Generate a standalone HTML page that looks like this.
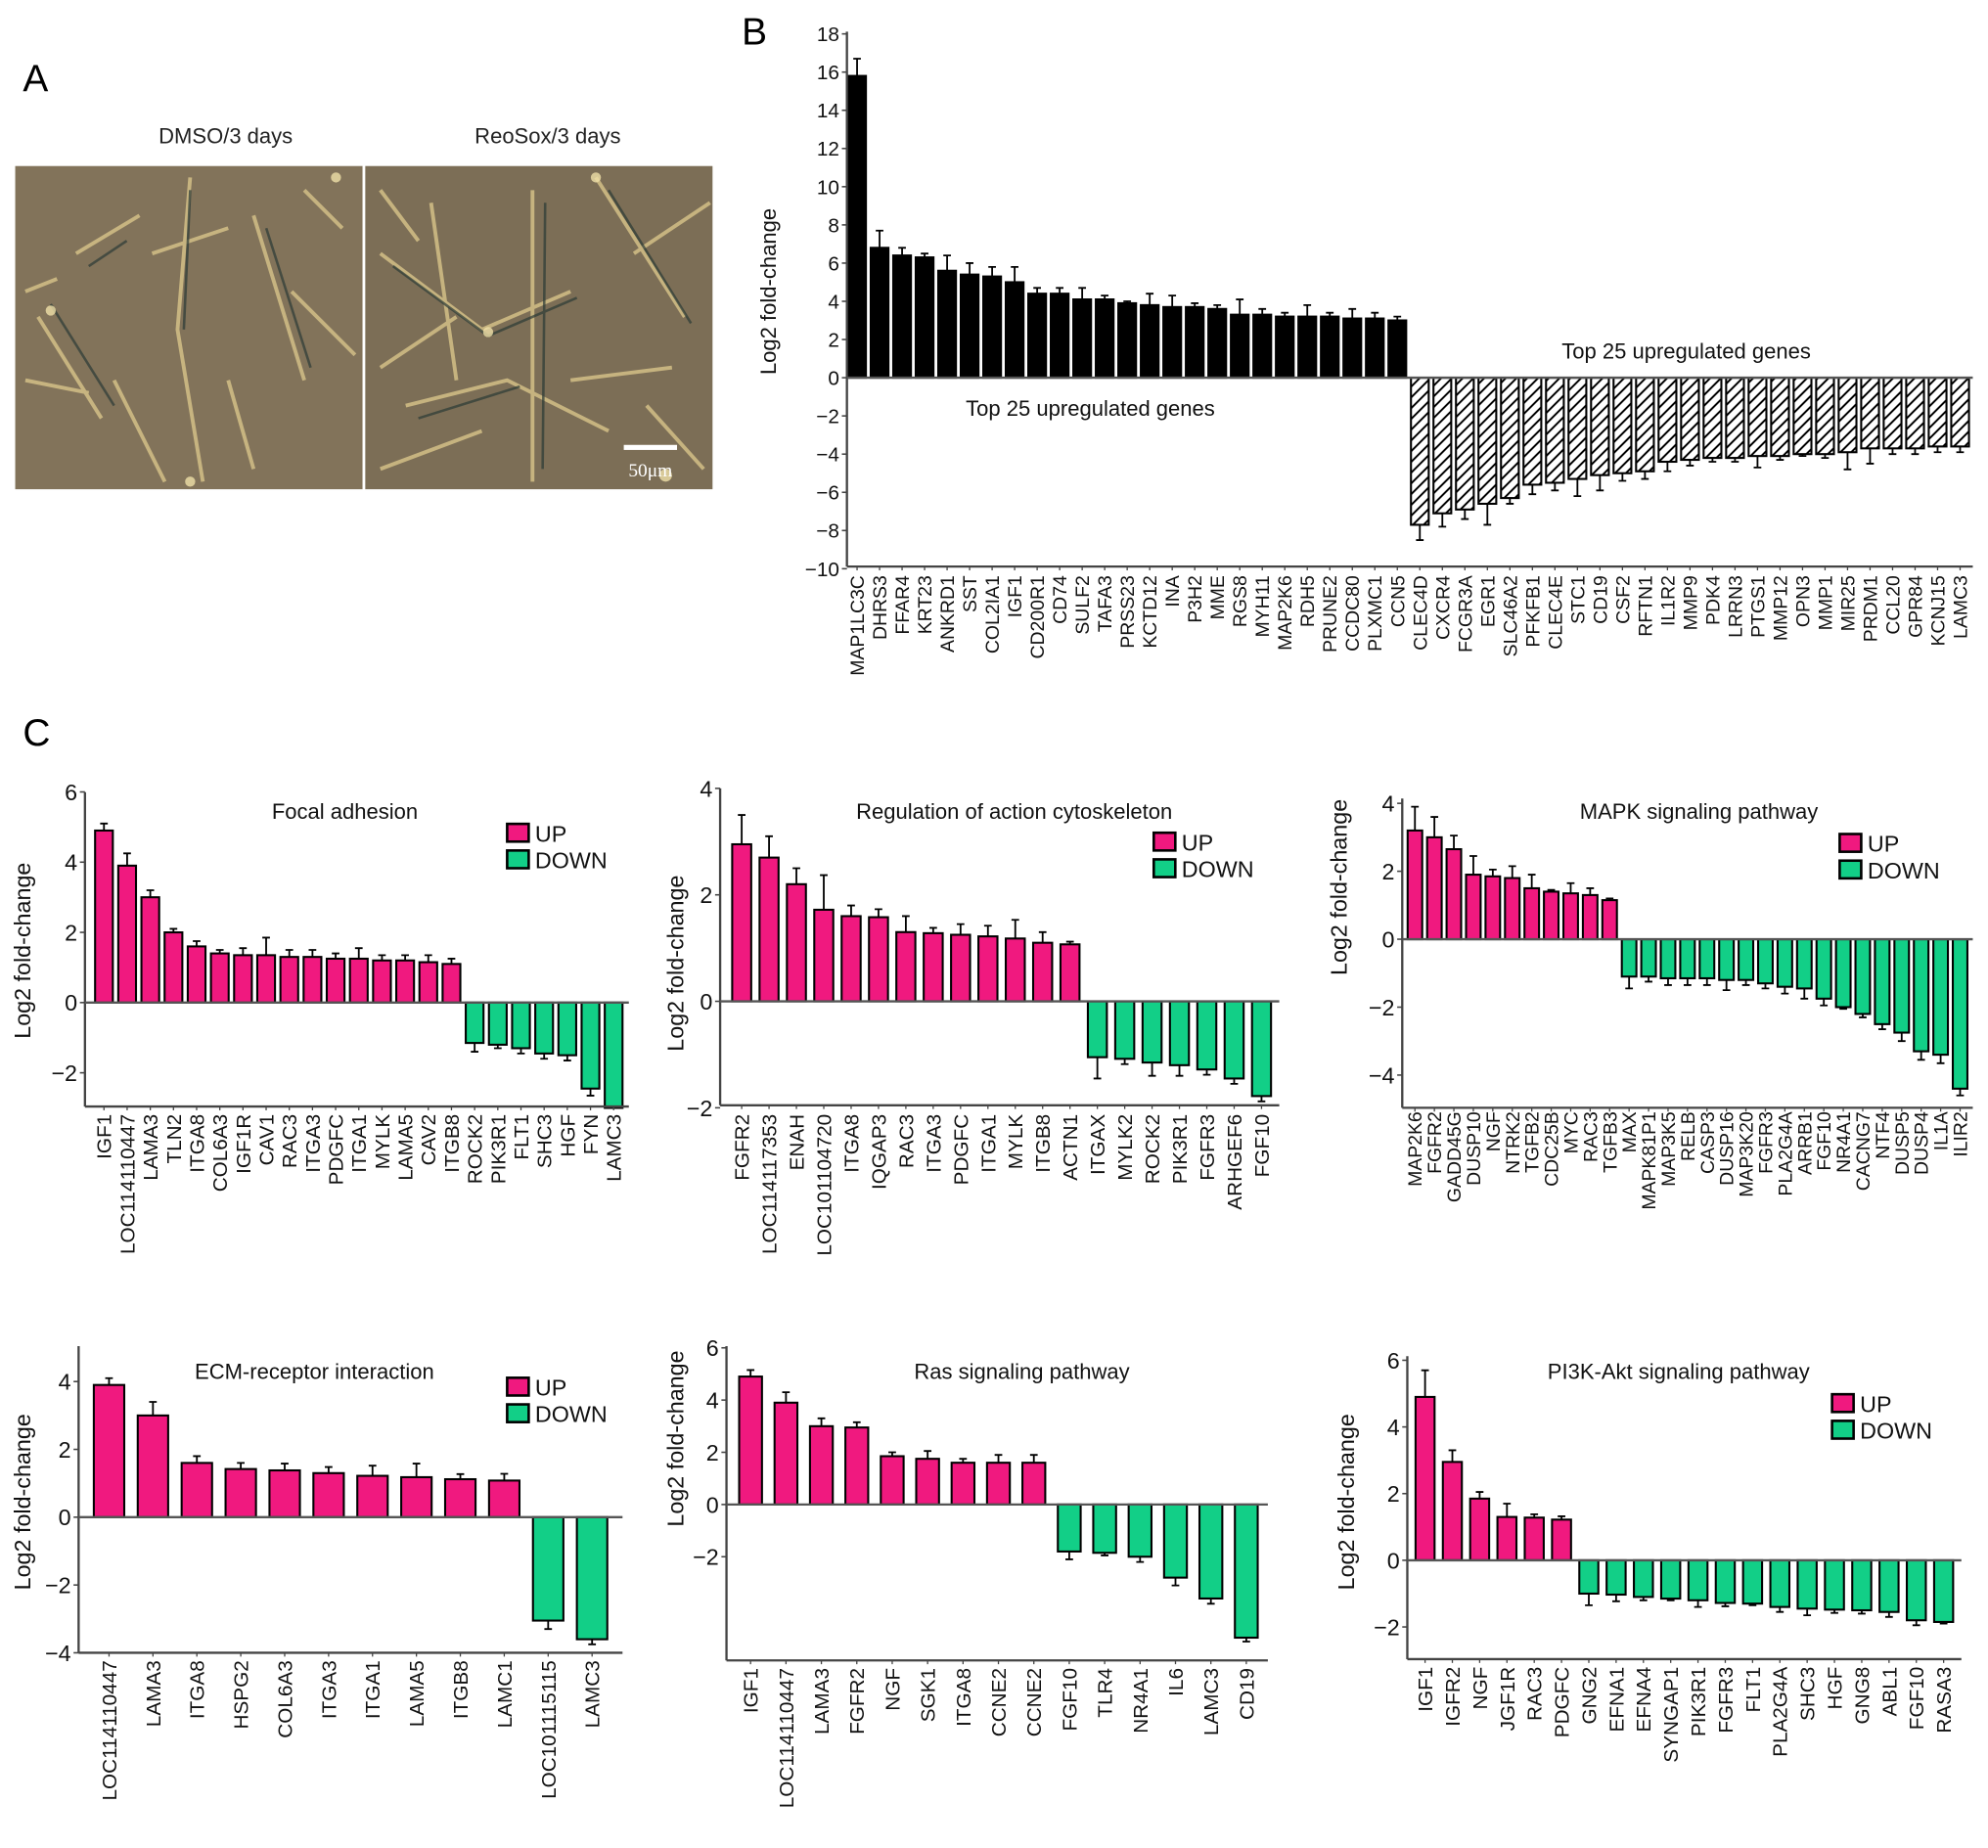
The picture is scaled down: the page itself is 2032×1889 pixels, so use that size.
<!DOCTYPE html>
<html><head><meta charset="utf-8"><style>
html,body{margin:0;padding:0;background:#fff;}
svg{display:block;font-family:"Liberation Sans",Arial,sans-serif;}
</style></head><body>
<svg id="fig" width="2032" height="1889" viewBox="0 0 1568 1458" preserveAspectRatio="none">
<defs>
<pattern id="hatch" patternUnits="userSpaceOnUse" width="6" height="6" patternTransform="rotate(45)">
<rect width="6" height="6" fill="#fff"/><line x1="0" y1="0" x2="0" y2="6" stroke="#000" stroke-width="3"/>
</pattern>
</defs>
<g>
<text x="18" y="72" font-size="30">A</text>
<text x="178" y="113" font-size="17" text-anchor="middle" fill="#222">DMSO/3 days</text>
<text x="432" y="113" font-size="17" text-anchor="middle" fill="#222">ReoSox/3 days</text>
<rect x="12" y="131" width="274" height="255" fill="#82735a"/>
<rect x="288" y="131" width="274" height="255" fill="#7c6e56"/>
<g stroke="#d8c48a" stroke-width="3" fill="none" opacity="0.8">
<path d="M30 250 L80 330 M60 200 L110 170 M150 140 L140 260 L160 380 M120 200 L180 180 M200 170 L240 300 M230 230 L280 280 M20 300 L70 310 M90 300 L130 380 M20 230 L45 220 M180 300 L200 370 M240 150 L270 180"/>
<path d="M300 200 L380 260 L450 230 M320 320 L400 300 L480 340 M340 160 L360 300 M420 150 L420 380 M470 140 L540 250 M500 200 L560 160 M300 370 L380 340 M450 300 L530 290 M360 250 L300 290 M510 320 L555 370 M300 150 L330 190"/>
</g>
<g stroke="#2b3a36" stroke-width="2" fill="none" opacity="0.7">
<path d="M40 240 L90 320 M150 150 L145 260 M210 180 L245 290 M310 210 L385 265 L455 235 M330 330 L410 305 M430 160 L428 370 M480 150 L545 255 M70 210 L100 190"/>
</g>
<g fill="#efe0a8" opacity="0.8">
<circle cx="40" cy="245" r="4"/><circle cx="150" cy="380" r="4"/><circle cx="265" cy="140" r="4"/><circle cx="385" cy="262" r="4"/><circle cx="470" cy="140" r="4"/><circle cx="525" cy="375" r="5"/>
</g>
<rect x="492" y="351" width="42" height="4" fill="#fff"/>
<text x="513" y="376" font-size="15" fill="#fff" text-anchor="middle" font-family="Liberation Serif">50μm</text>
<rect x="286" y="131" width="2" height="255" fill="#fff"/>
</g>
<text x="585" y="35" font-size="30">B</text>
<text x="18" y="588" font-size="30">C</text>
<g id="charts"></g>
</svg>
<script>
// ---- Panel B data ----
const bGenes=["MAP1LC3C","DHRS3","FFAR4","KRT23","ANKRD1","SST","COL2IA1","IGF1","CD200R1","CD74","SULF2","TAFA3","PRSS23","KCTD12","INA","P3H2","MME","RGS8","MYH11","MAP2K6","RDH5","PRUNE2","CCDC80","PLXMC1","CCN5","CLEC4D","CXCR4","FCGR3A","EGR1","SLC46A2","PFKFB1","CLEC4E","STC1","CD19","CSF2","RFTN1","IL1R2","MMP9","PDK4","LRRN3","PTGS1","MMP12","OPN3","MMP1","MIR25","PRDM1","CCL20","GPR84","KCNJ15","LAMC3"];
const bValues=[15.8,6.8,6.4,6.3,5.6,5.4,5.3,5.0,4.4,4.4,4.1,4.1,3.9,3.8,3.7,3.7,3.6,3.3,3.3,3.2,3.2,3.2,3.1,3.1,3.0,-7.7,-7.1,-6.9,-6.6,-6.3,-5.6,-5.5,-5.3,-5.1,-5.0,-4.9,-4.4,-4.3,-4.2,-4.2,-4.1,-4.1,-4.0,-4.0,-3.9,-3.7,-3.7,-3.7,-3.6,-3.6];
const bErrors=[0.9,0.9,0.4,0.2,0.8,0.6,0.5,0.8,0.3,0.3,0.6,0.2,0.1,0.6,0.6,0.2,0.2,0.8,0.3,0.2,0.6,0.2,0.5,0.3,0.2,0.8,0.7,0.5,1.1,0.3,0.5,0.4,0.9,0.8,0.4,0.4,0.5,0.3,0.2,0.2,0.6,0.2,0.1,0.2,0.9,0.8,0.3,0.3,0.3,0.3];
const bTicks=[18,16,14,12,10,8,6,4,2,0,-2,-4,-6,-8,-10];
// ---- C1 Focal adhesion ----
const c1Genes=["IGF1","LOC114110447","LAMA3","TLN2","ITGA8","COL6A3","IGF1R","CAV1","RAC3","ITGA3","PDGFC","ITGA1","MYLK","LAMA5","CAV2","ITGB8","ROCK2","PIK3R1","FLT1","SHC3","HGF","FYN","LAMC3"];
const c1Values=[4.9,3.9,3.0,2.0,1.6,1.4,1.35,1.35,1.3,1.3,1.25,1.25,1.2,1.2,1.15,1.1,-1.15,-1.2,-1.3,-1.45,-1.5,-2.45,-3.0];
const c1Errors=[0.2,0.35,0.2,0.1,0.15,0.1,0.2,0.5,0.2,0.2,0.15,0.3,0.15,0.15,0.2,0.15,0.25,0.1,0.15,0.15,0.15,0.2,0];
const c1Ticks=[6,4,2,0,-2];
// ---- C2 Regulation of actin cytoskeleton ----
const c2Genes=["FGFR2","LOC114117353","ENAH","LOC101104720","ITGA8","IQGAP3","RAC3","ITGA3","PDGFC","ITGA1","MYLK","ITGB8","ACTN1","ITGAX","MYLK2","ROCK2","PIK3R1","FGFR3","ARHGEF6","FGF10"];
const c2Values=[2.95,2.7,2.2,1.72,1.6,1.58,1.3,1.28,1.25,1.22,1.18,1.1,1.07,-1.05,-1.08,-1.15,-1.2,-1.28,-1.45,-1.78];
const c2Errors=[0.55,0.4,0.3,0.65,0.2,0.15,0.3,0.1,0.2,0.2,0.35,0.2,0.05,0.4,0.1,0.25,0.2,0.1,0.1,0.1];
const c2Ticks=[4,2,0,-2];
// ---- C3 MAPK ----
const c3Genes=["MAP2K6","FGFR2","GADD45G","DUSP10","NGF","NTRK2","TGFB2","CDC25B","MYC","RAC3","TGFB3","MAX","MAPK81P1","MAP3K5","RELB","CASP3","DUSP16","MAP3K20","FGFR3","PLA2G4A","ARRB1","FGF10","NR4A1","CACNG7","NTF4","DUSP5","DUSP4","IL1A","ILIR2"];
const c3Values=[3.2,3.0,2.65,1.9,1.85,1.8,1.5,1.4,1.35,1.3,1.15,-1.1,-1.1,-1.15,-1.15,-1.15,-1.2,-1.2,-1.3,-1.4,-1.45,-1.75,-2.0,-2.2,-2.5,-2.75,-3.3,-3.4,-4.4];
const c3Errors=[0.7,0.6,0.4,0.55,0.2,0.35,0.4,0.05,0.3,0.2,0.05,0.35,0.15,0.2,0.2,0.2,0.3,0.15,0.15,0.2,0.3,0.2,0.05,0.1,0.15,0.25,0.25,0.25,0.2];
const c3Ticks=[4,2,0,-2,-4];
// ---- C4 ECM-receptor ----
const c4Genes=["LOC114110447","LAMA3","ITGA8","HSPG2","COL6A3","ITGA3","ITGA1","LAMA5","ITGB8","LAMC1","LOC101115115","LAMC3"];
const c4Values=[3.9,3.0,1.6,1.42,1.38,1.3,1.22,1.18,1.12,1.08,-3.05,-3.6];
const c4Errors=[0.2,0.4,0.2,0.18,0.2,0.18,0.3,0.4,0.15,0.2,0.25,0.15];
const c4Ticks=[4,2,0,-2,-4];
// ---- C5 Ras ----
const c5Genes=["IGF1","LOC114110447","LAMA3","FGFR2","NGF","SGK1","ITGA8","CCNE2","CCNE2","FGF10","TLR4","NR4A1","IL6","LAMC3","CD19"];
const c5Values=[4.9,3.9,3.0,2.95,1.85,1.75,1.6,1.6,1.6,-1.8,-1.85,-2.0,-2.8,-3.6,-5.1];
const c5Errors=[0.25,0.4,0.3,0.2,0.15,0.3,0.15,0.3,0.3,0.3,0.1,0.2,0.3,0.2,0.15];
const c5Ticks=[6,4,2,0,-2];
// ---- C6 PI3K-Akt ----
const c6Genes=["IGF1","IGFR2","NGF","JGF1R","RAC3","PDGFC","GNG2","EFNA1","EFNA4","SYNGAP1","PIK3R1","FGFR3","FLT1","PLA2G4A","SHC3","HGF","GNG8","ABL1","FGF10","RASA3"];
const c6Values=[4.9,2.95,1.85,1.3,1.28,1.22,-1.0,-1.03,-1.1,-1.15,-1.2,-1.28,-1.3,-1.4,-1.45,-1.48,-1.5,-1.55,-1.8,-1.85];
const c6Errors=[0.8,0.35,0.2,0.4,0.1,0.1,0.35,0.2,0.1,0.05,0.2,0.1,0.05,0.15,0.2,0.1,0.1,0.15,0.15,0.05];
const c6Ticks=[6,4,2,0,-2];

const NS="http://www.w3.org/2000/svg";
const root=document.getElementById("charts");
function mk(tag,attrs,parent){const e=document.createElementNS(NS,tag);for(const k in attrs)e.setAttribute(k,attrs[k]);(parent||root).appendChild(e);return e;}

function chart(o){
  const g=mk("g",{});
  
  
  const y=v=>o.y0-v*o.unit;
  const n=o.genes.length;
  const step=(o.xLast-o.xFirst)/(n-1);
  const xc=i=>o.xFirst+i*step;
  o.values.forEach((v,i)=>{
    const x=xc(i)-o.bw/2;
    const top=Math.min(y(v),o.y0), h=Math.abs(y(v)-o.y0);
    let fill=v>=0?o.upFill:o.downFill;
    const r=mk("rect",{x:x,y:top,width:o.bw,height:h,fill:fill,stroke:"#000","stroke-width":o.sw||1.6},g);
    
    
    const e=o.errors[i];
    if(e>0){
      const ye=v>=0?y(v+e):y(v-e);
      const ln=mk("path",{d:`M${xc(i)} ${y(v)}V${ye}M${xc(i)-3} ${ye}H${xc(i)+3}`,stroke:"#000","stroke-width":1.4,fill:"none"},g);
      
      
    }
    const t=mk("text",{x:0,y:0,transform:`translate(${xc(i)+o.fs*0.36},${o.labTop}) rotate(-90)`,"text-anchor":"end","font-size":o.fs,fill:"#111"},g);
    t.textContent=o.genes[i];
    
    
    mk("line",{x1:xc(i),x2:xc(i),y1:o.yBot,y2:o.yBot+3,stroke:"#444","stroke-width":1},g);
  });
  const ya=mk("line",{x1:o.xAxis,x2:o.xAxis,y1:o.yTop,y2:o.yBot,stroke:"#444","stroke-width":1.8},g);
  
  
  const zl=mk("line",{x1:o.xAxis,x2:o.xEnd,y1:o.y0,y2:o.y0,stroke:"#555","stroke-width":1.8},g);
  
  
  const xa=mk("line",{x1:o.xAxis,x2:o.xEnd,y1:o.yBot,y2:o.yBot,stroke:"#444","stroke-width":1.8},g);
  
  
  o.ticks.forEach(t=>{
    mk("line",{x1:o.xAxis-4,x2:o.xAxis,y1:y(t),y2:y(t),stroke:"#444","stroke-width":1.2},g);
    const tx=mk("text",{x:o.xAxis-6,y:y(t)+o.tfs*0.36,"text-anchor":"end","font-size":o.tfs,fill:"#111"},g);
    tx.textContent=t<0?"\u2212"+(-t):String(t);
    
    
  });
  const yt=mk("text",{x:0,y:0,transform:`translate(${o.ytX},${o.ytY}) rotate(-90)`,"text-anchor":"middle","font-size":o.ytfs||18,fill:"#111"},g);
  yt.textContent="Log2 fold-change";
  
  
  if(o.title){
    const tt=mk("text",{x:o.title[1],y:o.title[2],"text-anchor":"middle","font-size":17,fill:"#111"},g);
    tt.textContent=o.title[0];
    
    
  }
  if(o.legend){
    const [lx,ly]=o.legend;
    [["UP",o.upFill,0],["DOWN",o.downFill,21]].forEach(([lab,f,dy])=>{
      const sw=mk("rect",{x:lx,y:ly+dy,width:17,height:14,fill:f,stroke:"#000","stroke-width":2},g);
      
      
      const lt=mk("text",{x:lx+22,y:ly+dy+14,"font-size":18,fill:"#111"},g);
      lt.textContent=lab;
      
      
    });
  }
  return g;
}
const PINK="#f0197f", GREEN="#12cf87";
chart({name:"chart-top-genes",genes:bGenes,values:bValues,errors:bErrors,ticks:bTicks,y0:298,unit:15.07,yTop:25,yBot:447,xAxis:668,xEnd:1556,xFirst:676,xLast:1546,bw:14,upFill:"#000",downFill:"url(#hatch)",labTop:454,fs:15,tfs:16,ytX:612,ytY:230,ytfs:17});
const tb=mk("text",{x:860,y:328,"text-anchor":"middle","font-size":17,fill:"#111"});tb.textContent="Top 25 upregulated genes";


const tb2=mk("text",{x:1330,y:283,"text-anchor":"middle","font-size":17,fill:"#111"});tb2.textContent="Top 25 upregulated genes";



chart({name:"chart-focal-adhesion",genes:c1Genes,values:c1Values,errors:c1Errors,ticks:c1Ticks,y0:791,unit:27.7,yTop:625,yBot:873,xAxis:67,xEnd:496,xFirst:82,xLast:484,bw:14,upFill:PINK,downFill:GREEN,labTop:879,fs:16,tfs:18,ytX:24,ytY:750,title:["Focal adhesion",272,646],legend:[400,650]});
chart({name:"chart-actin-cytoskeleton",genes:c2Genes,values:c2Values,errors:c2Errors,ticks:c2Ticks,y0:790,unit:42,yTop:622,yBot:872,xAxis:568,xEnd:1009,xFirst:585,xLast:995,bw:15,upFill:PINK,downFill:GREEN,labTop:879,fs:16,tfs:18,ytX:539,ytY:760,title:["Regulation of action cytoskeleton",800,646],legend:[910,657]});
chart({name:"chart-mapk",genes:c3Genes,values:c3Values,errors:c3Errors,ticks:c3Ticks,y0:741,unit:26.8,yTop:630,yBot:874,xAxis:1106,xEnd:1556,xFirst:1116,xLast:1546,bw:11.5,upFill:PINK,downFill:GREEN,labTop:877,fs:15,tfs:18,ytX:1062,ytY:700,title:["MAPK signaling pathway",1340,646],legend:[1451,658]});
chart({name:"chart-ecm-receptor",genes:c4Genes,values:c4Values,errors:c4Errors,ticks:c4Ticks,y0:1197,unit:26.75,yTop:1062,yBot:1304,xAxis:62,xEnd:491,xFirst:86,xLast:467,bw:24,upFill:PINK,downFill:GREEN,labTop:1310,fs:16,tfs:18,ytX:24,ytY:1185,title:["ECM-receptor interaction",248,1088],legend:[400,1087]});
chart({name:"chart-ras",genes:c5Genes,values:c5Values,errors:c5Errors,ticks:c5Ticks,y0:1187,unit:20.6,yTop:1062,yBot:1310,xAxis:573,xEnd:1000,xFirst:592,xLast:983,bw:18,upFill:PINK,downFill:GREEN,labTop:1316,fs:16,tfs:18,ytX:539,ytY:1135,title:["Ras signaling pathway",806,1088]});
chart({name:"chart-pi3k-akt",genes:c6Genes,values:c6Values,errors:c6Errors,ticks:c6Ticks,y0:1231,unit:26.3,yTop:1070,yBot:1309,xAxis:1110,xEnd:1547,xFirst:1124,xLast:1533,bw:15,upFill:PINK,downFill:GREEN,labTop:1315,fs:16,tfs:18,ytX:1068,ytY:1185,title:["PI3K-Akt signaling pathway",1324,1088],legend:[1445,1100]});
</script>
</body></html>
